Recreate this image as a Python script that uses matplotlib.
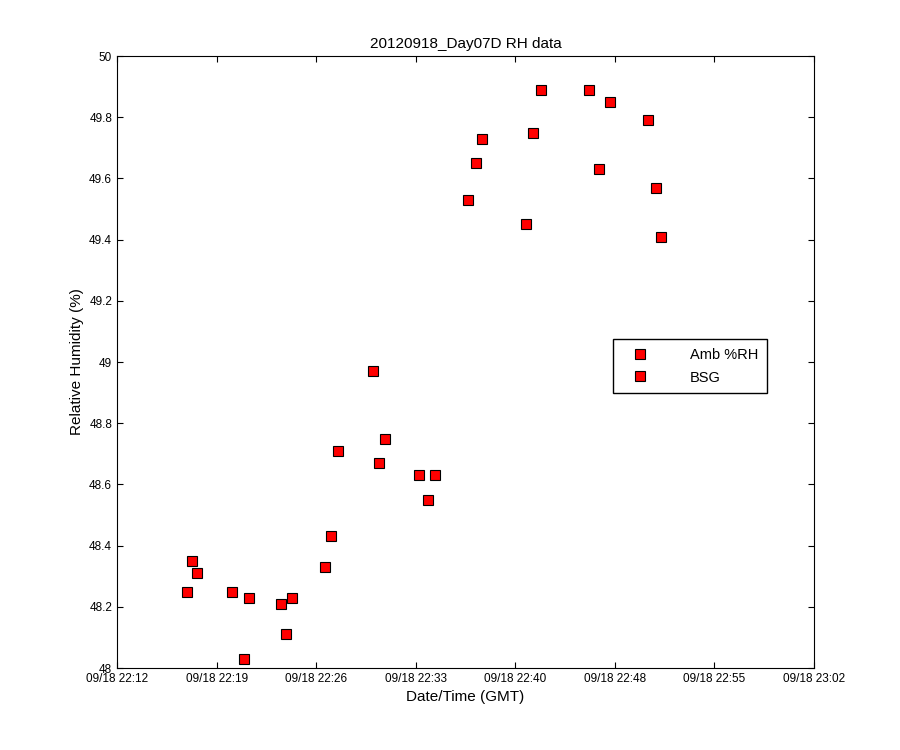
import matplotlib
matplotlib.use("Agg")
import matplotlib.pyplot as plt
plt.rcParams['font.family'] = 'Liberation Sans'

minutes = [5.02,5.38,5.74,8.25,9.47,9.11,11.76,12.12,12.55,14.92,15.35,15.85,18.36,18.79,19.23,
           21.66,22.31,22.81,25.18,25.75,26.18,29.34,29.84,30.42,33.86,34.58,35.37,38.09,38.67,39.02]
rh = [48.25,48.35,48.31,48.25,48.23,48.03,48.21,48.11,48.23,48.33,48.43,48.71,48.97,48.67,48.75,
      48.63,48.55,48.63,49.53,49.65,49.73,49.45,49.75,49.89,49.89,49.63,49.85,49.79,49.57,49.41]
tick_labels = ["09/18 22:12","09/18 22:19","09/18 22:26","09/18 22:33","09/18 22:40",
               "09/18 22:48","09/18 22:55","09/18 23:02"]
yticks = [48,48.2,48.4,48.6,48.8,49,49.2,49.4,49.6,49.8,50]

fig = plt.figure(figsize=(9,7.5), dpi=100)
ax = fig.add_axes([0.13,0.1093,0.7744,0.816])
ax.plot(minutes, rh, 's', ms=7, mfc='red', mec='black', mew=0.8, ls='none', label='Amb %RH')
ax.plot([], [], 's', ms=7, mfc='red', mec='black', mew=0.8, ls='none', label='BSG')
ax.set_xlim(0,50)
ax.set_ylim(48,50)
ax.set_xticks([50*i/7 for i in range(8)])
ax.set_xticklabels(tick_labels, fontsize=8.5)
ax.set_yticks(yticks)
ax.set_yticklabels([f"{v:g}" for v in yticks], fontsize=8.5)
ax.tick_params(direction='in', length=4, top=True, right=True)
ax.set_xlabel("Date/Time (GMT)", fontsize=11)
ax.set_ylabel("Relative Humidity (%)", fontsize=11)
ax.set_title("20120918_Day07D RH data", fontsize=11)
ax.legend(loc='upper left', bbox_to_anchor=(0.7116,0.5376), borderaxespad=0, fancybox=False,
          edgecolor='black', fontsize=10.5, handletextpad=2.2, borderpad=0.6, handlelength=2.5,
          labelspacing=0.6, framealpha=1)
fig.savefig("out.png", dpi=100)
